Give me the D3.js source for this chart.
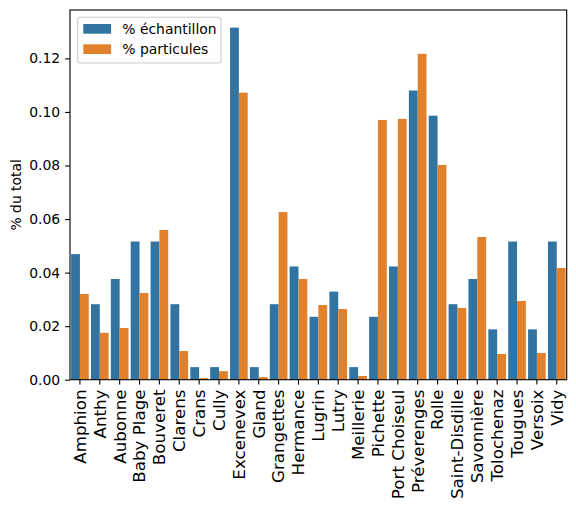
<!DOCTYPE html>
<html><head><meta charset="utf-8">
<script src="https://cdn.jsdelivr.net/npm/d3@7"></script>
<style>body{margin:0;background:#fff;} text{font-family:"DejaVu Sans",sans-serif;}</style>
</head><body>
<svg id="c" width="576" height="529"></svg>
<script>
const categories = ["Amphion","Anthy","Aubonne","Baby Plage","Bouveret","Clarens","Crans","Cully","Excenevex","Gland","Grangettes","Hermance","Lugrin","Lutry","Meillerie","Pichette","Port Choiseul","Préverenges","Rolle","Saint-Disdille","Savonnière","Tolochenaz","Tougues","Versoix","Vidy"];
const echantillon = [0.0469,0.0282,0.0376,0.0516,0.0516,0.0282,0.0047,0.0047,0.1315,0.0047,0.0282,0.0423,0.0235,0.0329,0.0047,0.0235,0.0423,0.1080,0.0986,0.0282,0.0376,0.0188,0.0516,0.0188,0.0516];
const particules = [0.0320,0.0175,0.0193,0.0324,0.0559,0.0107,0.0006,0.0032,0.1072,0.0010,0.0626,0.0376,0.0279,0.0264,0.0014,0.0970,0.0974,0.1217,0.0802,0.0268,0.0533,0.0096,0.0294,0.0100,0.0417];
const seriesNames = ["% échantillon","% particules"];
const yTicks = [0,0.02,0.04,0.06,0.08,0.10,0.12];
const colors = ["#3274a1","#e1812c"];

const svg = d3.select("#c");
const L=70, R=566.7, T=10, B=379.7;
const x = d3.scaleBand().domain(categories).range([L,R]).paddingInner(0).paddingOuter(0);
const maxV = d3.max(echantillon.concat(particules));
const y = d3.scaleLinear().domain([0, maxV*1.05]).range([B,T]);
const xs = d3.scaleBand().domain([0,1]).range([0,x.bandwidth()]).paddingInner(0).paddingOuter(0.125);

const series = [echantillon, particules];
series.forEach((vals,si)=>{
  svg.append("g").selectAll("rect").data(categories).join("rect")
    .attr("x",(c)=>x(c)+xs(si))
    .attr("width",xs.bandwidth())
    .attr("y",(c,i)=>y(vals[i]))
    .attr("height",(c,i)=>B-y(vals[i]))
    .attr("fill",colors[si]);
});

// axes
const yAxis = d3.axisLeft(y).tickValues(yTicks).tickFormat(d3.format(".2f")).tickSize(4.9).tickPadding(4.9);
const gy = svg.append("g").attr("transform",`translate(${L},0)`).call(yAxis);
gy.select(".domain").remove();
gy.selectAll("text").attr("font-size","13.9px").attr("fill","#000").style("font-family","DejaVu Sans");
gy.selectAll("line").attr("stroke","#000").attr("stroke-width",1.1);

const xAxis = d3.axisBottom(x).tickSize(4.9).tickPadding(4.9);
const gx = svg.append("g").attr("transform",`translate(0,${B})`).call(xAxis);
gx.select(".domain").remove();
gx.selectAll("line").attr("stroke","#000").attr("stroke-width",1.1);
gx.selectAll("text").attr("font-size","16.7px").attr("fill","#000").style("font-family","DejaVu Sans")
  .attr("transform","rotate(-90)").attr("text-anchor","end").attr("dy","0.35em").attr("x",-9.8).attr("y",0);

// spines
svg.append("rect").attr("x",L).attr("y",T).attr("width",R-L).attr("height",B-T)
  .attr("fill","none").attr("stroke","#000").attr("stroke-width",1.1);

// y label
svg.append("text").attr("transform",`translate(21,${(T+B)/2}) rotate(-90)`).attr("text-anchor","middle")
  .attr("font-size","13.9px").text("% du total");

// legend
const lg = svg.append("g");
lg.append("rect").attr("x",77.7).attr("y",17.3).attr("width",143.3).attr("height",45.7).attr("rx",2.5)
  .attr("fill","#fff").attr("fill-opacity",0.8).attr("stroke","#ccc").attr("stroke-width",1.1);
seriesNames.forEach((n,i)=>{
  lg.append("rect").attr("x",83.3).attr("y",24+i*20.3).attr("width",27.8).attr("height",9.7).attr("fill",colors[i]);
  lg.append("text").attr("x",122.3).attr("y",29+i*20.3).attr("dy","0.35em").attr("font-size","13.9px").text(n);
});
</script>
</body></html>
